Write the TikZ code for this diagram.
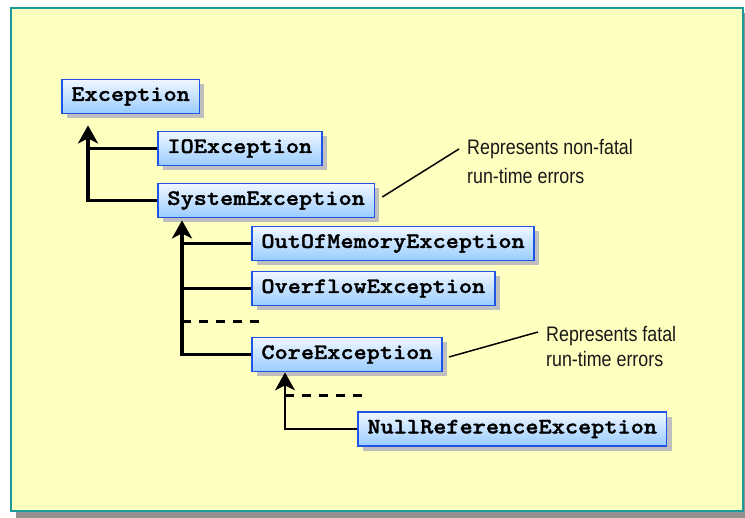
\documentclass[tikz,border=0pt]{standalone}
\usepackage{fontspec}
\setmainfont{Liberation Sans}[FakeStretch=0.85]
\newfontfamily\codefont{lmmonolt10-bold}[Extension=.otf, FakeStretch=1.14, FakeBold=1.5]
\usepackage{xcolor}
\usepackage{tikz}
\usetikzlibrary{positioning,shadows,arrows.meta}

\definecolor{paper}{HTML}{FFFFC0}
\definecolor{frameline}{HTML}{1C9A9A}
\definecolor{boxline}{HTML}{1F55E6}
\definecolor{boxtop}{HTML}{F0F7FF}
\definecolor{boxbottom}{HTML}{99CCFF}

\tikzset{
  classbox/.style={draw=boxline, line width=1.8pt, top color=boxtop, bottom color=boxbottom,
    font=\codefont\fontsize{22}{24}\selectfont, minimum height=34pt,
    inner xsep=9.5pt, anchor=west,
    drop shadow={shadow xshift=5pt, shadow yshift=-5pt, fill=black!25, opacity=1}},
  edge/.style={black, line width=2.6pt},
  bigtip/.style={-{Stealth[length=18pt,width=20pt,inset=5pt]}},
  more/.style={black, line width=3pt, dash pattern=on 9pt off 8pt},
  note/.style={font=\fontsize{21}{25}\selectfont, text=black!90, align=left, inner sep=0pt, anchor=north west},
  noteline/.style={black, line width=1.5pt}
}

\begin{document}
\begin{tikzpicture}[x=1pt,y=-1pt]
    \useasboundingbox (0,0) rectangle (745,518);
    % frame
    \fill[black!43] (16,13) rectangle (745,518);
    \draw[frameline, fill=paper, line width=2.5pt] (11,8) rectangle (743,511);
    % classes
    \node[classbox] (exc) at (61,96.5) {Exception};
    \node[classbox] (io) at (157,148.5) {IOException};
    \node[classbox] (sys) at (157,200.5) {SystemException};
    \node[classbox] (oom) at (251,243.5) {OutOfMemoryException};
    \node[classbox] (ovf) at (251,288.5) {OverflowException};
    \node[classbox] (core) at (251,354.5) {CoreException};
    \node[classbox] (nullref) at (357,429) {NullReferenceException};
    \coordinate (moreA) at (262,322);
    \coordinate (moreB) at (365,396);
    % under Exception
    \draw[edge, line width=3.5pt, bigtip] (sys.west) -| ([xshift=27pt,yshift=-11pt]exc.south west);
    \draw[edge] (io.west) -- ([xshift=27pt]io.west -| exc.south west);
    % under SystemException
    \draw[edge, line width=3.5pt, bigtip] (core.west) -| ([xshift=25pt,yshift=-2pt]sys.south west);
    \draw[edge] (oom.west) -- ([xshift=25pt]oom.west -| sys.south west);
    \draw[edge] (ovf.west) -- ([xshift=25pt]ovf.west -| sys.south west);
    \draw[more] ([xshift=25pt]moreA -| sys.south west) -- (moreA);
    % under CoreException
    \draw[edge, line width=2pt, bigtip] (nullref.west) -| ([xshift=34pt]core.south west);
    \draw[more] ([xshift=34pt]moreB -| core.south west) -- (moreB);
    % notes
    \node[note, font=\fontsize{21}{29.5}\selectfont] (noteA) at (467,139) {Represents non-fatal\\run-time errors};
    \draw[noteline] ([xshift=7pt,yshift=3.5pt]sys.east) -- ([xshift=-8pt,yshift=-10pt]noteA.north west);
    \node[note] (noteB) at (546,326) {Represents fatal\\run-time errors};
    \draw[noteline] ([xshift=6pt,yshift=-2.5pt]core.east) -- ([xshift=-8pt,yshift=-6pt]noteB.north west);
\end{tikzpicture}
\end{document}
